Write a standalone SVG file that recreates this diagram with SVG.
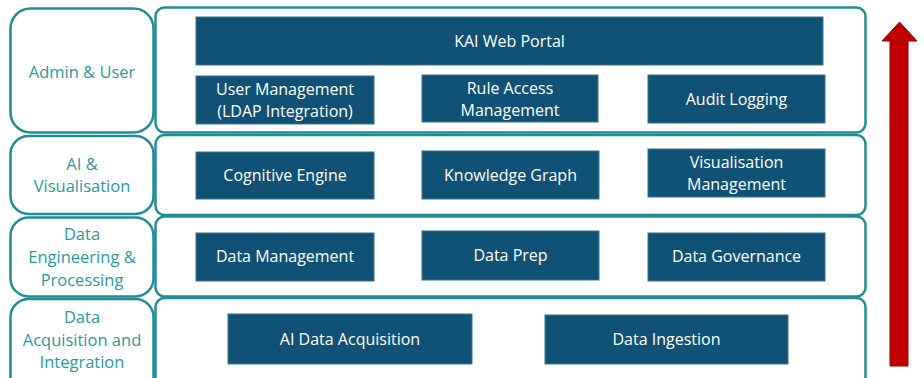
<svg xmlns="http://www.w3.org/2000/svg" width="924" height="378" viewBox="0 0 924 378">
<style>
.lbl{fill:#fff;stroke:#1F8F95;stroke-width:2.5}
.pnl{fill:#fff;stroke:#1F8F95;stroke-width:2.5}
.box{fill:#0F5275;stroke:#3A7390;stroke-width:1}
.lt{font-family:"Open Sans","Liberation Sans",sans-serif;font-size:16.5px;fill:#2A9A9E;text-anchor:middle}
.bt{font-family:"Open Sans","Liberation Sans",sans-serif;font-size:16px;fill:#fff;text-anchor:middle}
</style>
<rect width="924" height="378" fill="#fff"/>
<g id="panels">
<rect id="panel-admin" class="pnl" x="155.5" y="7.5" width="710" height="125" rx="9"/>
<rect id="panel-ai" class="pnl" x="155.5" y="135" width="710" height="80" rx="9"/>
<rect id="panel-de" class="pnl" x="155.5" y="216.5" width="710" height="80" rx="9"/>
<rect id="panel-da" class="pnl" x="155.5" y="298" width="710" height="100" rx="9"/>
</g>
<g id="label-admin"><rect class="lbl" x="10.5" y="8.5" width="143" height="124" rx="20"/><text class="lt" x="82" y="78">Admin &amp; User</text></g>
<g id="label-ai"><rect class="lbl" x="10.5" y="136" width="143" height="78" rx="18"/><text class="lt" x="82" y="170">AI &amp;</text><text class="lt" x="82" y="192">Visualisation</text></g>
<g id="label-de"><rect class="lbl" x="10.5" y="217.5" width="143" height="79" rx="18"/><text class="lt" x="82" y="240">Data</text><text class="lt" x="82" y="263">Engineering &amp;</text><text class="lt" x="82" y="286">Processing</text></g>
<g id="label-da"><rect class="lbl" x="10.5" y="299" width="143" height="100" rx="18"/><text class="lt" x="82" y="323">Data</text><text class="lt" x="82" y="346">Acquisition and</text><text class="lt" x="82" y="368">Integration</text></g>
<g id="kai-web-portal"><rect class="box" x="196" y="17" width="627" height="48"/><text class="bt" x="509.5" y="47">KAI Web Portal</text></g>
<g id="user-management"><rect class="box" x="196" y="76" width="178" height="48"/><text class="bt" x="285" y="95">User Management</text><text class="bt" x="285" y="117">(LDAP Integration)</text></g>
<g id="rule-access"><rect class="box" x="422" y="75" width="176" height="47"/><text class="bt" x="510" y="94">Rule Access</text><text class="bt" x="510" y="116">Management</text></g>
<g id="audit-logging"><rect class="box" x="648" y="75" width="177" height="48"/><text class="bt" x="736.5" y="105">Audit Logging</text></g>
<g id="cognitive-engine"><rect class="box" x="196" y="152" width="178" height="47"/><text class="bt" x="285" y="181">Cognitive Engine</text></g>
<g id="knowledge-graph"><rect class="box" x="422" y="151" width="177" height="48"/><text class="bt" x="510.5" y="181">Knowledge Graph</text></g>
<g id="visualisation-management"><rect class="box" x="648" y="149" width="177" height="48"/><text class="bt" x="736.5" y="168">Visualisation</text><text class="bt" x="736.5" y="190">Management</text></g>
<g id="data-management"><rect class="box" x="196" y="233" width="178" height="48"/><text class="bt" x="285" y="262">Data Management</text></g>
<g id="data-prep"><rect class="box" x="422" y="231" width="177" height="49"/><text class="bt" x="510.5" y="261">Data Prep</text></g>
<g id="data-governance"><rect class="box" x="648" y="233" width="177" height="48"/><text class="bt" x="736.5" y="262">Data Governance</text></g>
<g id="ai-data-acquisition"><rect class="box" x="228" y="314" width="244" height="50"/><text class="bt" x="350" y="345">AI Data Acquisition</text></g>
<g id="data-ingestion"><rect class="box" x="545" y="315" width="243" height="49"/><text class="bt" x="666.5" y="345">Data Ingestion</text></g>
<g id="connectors">
<polygon points="890,366 908,366 908,41 917,41 899.5,22 882,41 890,41" fill="#C00000" stroke="#9A0000" stroke-width="1"/>
</g>
</svg>
